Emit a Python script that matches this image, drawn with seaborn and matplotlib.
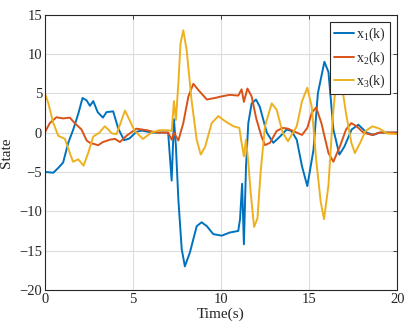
import pandas
import matplotlib
matplotlib.use('Agg')
import matplotlib.pyplot as plt
import seaborn as sns

# x1(k)
t1 = [0, 0.48, 0.76, 1.04, 1.33, 1.6, 1.9, 2.14, 2.37, 2.56, 2.75, 3.0, 3.3, 3.5, 3.88, 4.17,
      4.5, 4.8, 5.2, 5.5, 6.1, 6.95, 7.0, 7.2, 7.33, 7.44, 7.58, 7.77, 7.95, 8.24, 8.62, 8.9,
      9.2, 9.56, 10.04, 10.5, 10.98, 11.08, 11.2, 11.3, 11.42, 11.55, 11.74, 11.99, 12.2, 12.6,
      12.97, 13.35, 13.73, 14.0, 14.3, 14.6, 14.9, 15.25, 15.5, 15.87, 16.1, 16.38, 16.72, 17.0,
      17.42, 17.8, 18.27, 18.65, 19.0, 20.0]
x1 = [-5.0, -5.1, -4.5, -3.8, -1.3, 0.3, 2.4, 4.4, 4.1, 3.4, 4.0, 2.6, 1.9, 2.6, 2.7, 0.5,
      -0.97, -0.75, 0.1, 0.25, 0.0, 0.0, 0.0, -6.1, 1.7, -1.7, -8.5, -14.8, -17.0, -15.2, -11.9, -11.4,
      -11.9, -12.9, -13.1, -12.7, -12.5, -11.0, -6.5, -14.2, -4.3, 1.2, 3.7, 4.2, 3.3, 0.0,
      -1.3, -0.5, 0.4, 0.2, -0.9, -4.3, -6.8, -2.2, 5.0, 9.0, 7.7, 0.4, -2.8, -1.8,
      0.4, 1.0, 0.0, -0.3, 0.0, 0.0]

# x2(k)
t2 = [0, 0.28, 0.66, 1.04, 1.42, 1.7, 2.08, 2.37, 2.56, 3.03, 3.3, 3.7, 3.98, 4.26, 4.64, 5.2,
      5.78, 6.35, 7.0, 7.2, 7.33, 7.58, 7.86, 8.15, 8.43, 8.72, 9.2, 9.66, 10.04, 10.5, 10.98,
      11.17, 11.3, 11.5, 11.74, 12.0, 12.3, 12.5, 12.78, 13.16, 13.5, 13.8, 14.3, 14.6, 14.9,
      15.15, 15.4, 15.7, 16.1, 16.38, 16.76, 17.1, 17.4, 17.7, 18.08, 18.56, 19.0, 20.0]
x2 = [0.0, 1.2, 1.95, 1.8, 1.9, 1.2, 0.4, -1.0, -1.3, -1.6, -1.2, -0.9, -0.8, -1.2, -0.4, 0.5,
      0.3, 0.0, 0.0, -0.9, 0.0, -1.0, 1.2, 4.6, 6.2, 5.4, 4.2, 4.4, 4.6, 4.8, 4.7,
      5.5, 3.9, 5.6, 4.6, 1.8, -0.5, -1.6, -1.3, 0.2, 0.6, 0.5, 0.0, -0.3, 0.6,
      2.5, 3.2, 1.2, -2.6, -3.7, -1.7, 0.4, 1.2, 0.8, 0.0, -0.3, 0.0, 0.0]

# x3(k)
t3 = [0, 0.19, 0.47, 0.76, 1.14, 1.42, 1.6, 1.9, 2.2, 2.46, 2.75, 3.1, 3.4, 3.6, 3.8, 4.07,
      4.55, 4.83, 5.1, 5.57, 6.06, 6.5, 7.0, 7.2, 7.33, 7.44, 7.58, 7.7, 7.86, 8.05, 8.33,
      8.62, 8.85, 9.1, 9.47, 9.85, 10.2, 10.7, 11.04, 11.17, 11.3, 11.42, 11.55, 11.68, 11.88,
      12.07, 12.25, 12.5, 12.88, 13.16, 13.5, 13.8, 14.3, 14.6, 14.9, 15.15, 15.4, 15.66, 15.85,
      16.1, 16.35, 16.6, 16.9, 17.1, 17.4, 17.6, 17.9, 18.2, 18.6, 19.0, 19.4, 20.0]
x3 = [5.0, 3.8, 1.3, -0.4, -0.8, -2.6, -3.7, -3.4, -4.2, -2.6, -0.5, 0.0, 0.8, 0.4, -0.1, -0.2,
      2.8, 1.5, 0.2, -0.8, 0.0, 0.3, 0.3, 0.2, 4.0, 1.6, 6.2, 11.3, 13.0, 10.5, 4.1,
      -0.9, -2.8, -1.8, 1.2, 2.1, 1.5, 0.8, 0.6, -1.3, -3.0, -0.9, -3.8, -7.5, -12.0,
      -10.9, -5.0, 0.85, 3.7, 2.9, 0.0, -1.1, 0.8, 4.0, 5.7, 3.3, -3.4, -8.8, -11.0,
      -6.7, 2.1, 8.0, 5.4, 2.4, -1.3, -2.6, -1.3, 0.2, 0.8, 0.5, -0.1, -0.2]

labels = ['x$_1$(k)', 'x$_2$(k)', 'x$_3$(k)']
colors = ['#0072BD', '#D95319', '#EDB120']

df = pandas.concat([
    pandas.DataFrame({'t': t1, 'v': x1, 's': labels[0]}),
    pandas.DataFrame({'t': t2, 'v': x2, 's': labels[1]}),
    pandas.DataFrame({'t': t3, 'v': x3, 's': labels[2]}),
])

sns.set_style('whitegrid')
plt.rcParams['font.family'] = ['Liberation Serif', 'DejaVu Serif']
plt.rcParams['mathtext.fontset'] = 'custom'
plt.rcParams['mathtext.rm'] = 'Liberation Serif'
plt.rcParams['mathtext.it'] = 'Liberation Serif'

fig = plt.figure(figsize=(4.15, 3.31), dpi=100)
ax = fig.add_axes([0.108, 0.124, 0.849, 0.832])
sns.lineplot(data=df, x='t', y='v', hue='s', palette=colors, sort=False,
             estimator=None, linewidth=1.4, ax=ax)

ax.set_xlim(0, 20)
ax.set_ylim(-20, 15)
ax.set_xticks([0, 5, 10, 15, 20])
ax.set_yticks([-20, -15, -10, -5, 0, 5, 10, 15])
ax.grid(True, color='#dcdcdc', linewidth=0.8)
for sp in ax.spines.values():
    sp.set_color('#262626')
    sp.set_linewidth(0.8)
ax.tick_params(direction='in', top=True, right=True, length=3, width=0.6,
               labelsize=10.5, colors='#262626', pad=2)
ax.set_xlabel('Time(s)', fontsize=11, labelpad=1)
ax.set_ylabel('State', fontsize=11, labelpad=4)

leg = ax.legend(loc='upper right', fontsize=10, frameon=True, fancybox=False,
                handlelength=1.45, borderpad=0.3, labelspacing=0.45, handletextpad=0.15,
                borderaxespad=0.5)
leg.get_frame().set_edgecolor('#262626')
leg.get_frame().set_linewidth(0.8)
leg.get_frame().set_alpha(1)

fig.savefig('out.png', dpi=100)
